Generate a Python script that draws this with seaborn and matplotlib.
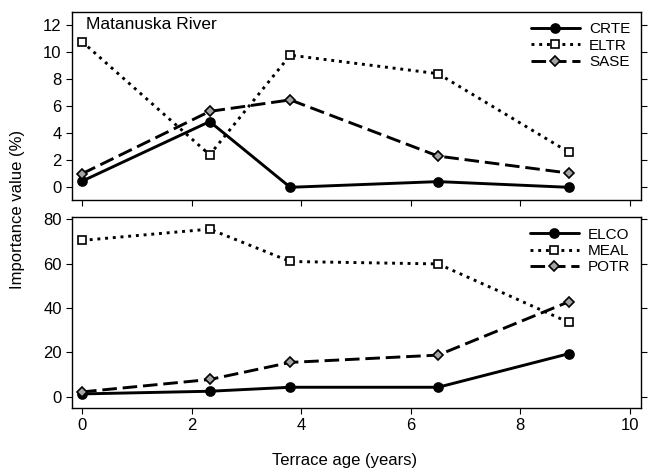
import matplotlib
matplotlib.use('Agg')
import matplotlib.pyplot as plt
import seaborn as sns
import pandas as pd

# Terrace ages (years) and importance values (%)
terrace_age = [0, 2.33, 3.8, 6.5, 8.88]

crte = [0.45, 4.85, 0.0, 0.42, 0.0]
eltr = [10.75, 2.4, 9.75, 8.38, 2.6]
sase = [1.0, 5.6, 6.45, 2.3, 1.05]

elco = [1.3, 2.5, 4.3, 4.3, 19.4]
meal = [70.5, 75.6, 61.0, 59.9, 33.6]
potr = [2.2, 7.8, 15.5, 18.8, 42.8]

top_series = {'CRTE': crte, 'ELTR': eltr, 'SASE': sase}
bottom_series = {'ELCO': elco, 'MEAL': meal, 'POTR': potr}

styles = [
    dict(linestyle='-', marker='o', markerfacecolor='black', markersize=6.5),
    dict(linestyle=':', marker='s', markerfacecolor='white', markersize=5.5),
    dict(linestyle=(0, (5, 2)), marker='D', markerfacecolor='#a4a4a4', markersize=5.5),
]

sns.set_style('ticks', {'axes.edgecolor': 'black', 'text.color': 'black',
                        'xtick.color': 'black', 'ytick.color': 'black',
                        'axes.labelcolor': 'black'})
plt.rcParams['font.family'] = ['Liberation Sans', 'DejaVu Sans']

fig = plt.figure(figsize=(6.5, 4.71), dpi=100)
ax_top = fig.add_axes([0.111, 0.575, 0.875, 0.40])
ax_bot = fig.add_axes([0.111, 0.134, 0.875, 0.405])


def draw_panel(ax, series):
    for (name, vals), st in zip(series.items(), styles):
        df = pd.DataFrame({'age': terrace_age, 'value': vals})
        sns.lineplot(data=df, x='age', y='value', ax=ax, color='black',
                     linewidth=2.1, markeredgecolor='black', markeredgewidth=1.2,
                     label=name, **st)
    ax.set_xlim(-0.18, 10.2)
    ax.set_xticks([0, 2, 4, 6, 8, 10])
    ax.set_xlabel('')
    ax.set_ylabel('')
    ax.tick_params(direction='out', right=True, labelsize=12, length=4,
                   color='black', labelcolor='black')
    for s in ax.spines.values():
        s.set_visible(True)
        s.set_linewidth(1)
        s.set_color('black')
    ax.legend(loc='upper right', frameon=False, fontsize=11,
              handlelength=3.2, labelspacing=0.15, borderaxespad=0.3,
              handletextpad=0.6)


draw_panel(ax_top, top_series)
ax_top.set_ylim(-0.95, 12.95)
ax_top.set_yticks([0, 2, 4, 6, 8, 10, 12])
ax_top.tick_params(labelbottom=False)
ax_top.text(0.025, 0.97, 'Matanuska River', transform=ax_top.transAxes,
            fontsize=12.5, va='top', ha='left')

draw_panel(ax_bot, bottom_series)
ax_bot.set_ylim(-5, 81)
ax_bot.set_yticks([0, 20, 40, 60, 80])

fig.text(0.53, 0.022, 'Terrace age (years)', ha='center', va='center', fontsize=12)
fig.text(0.027, 0.555, 'Importance value (%)', ha='center', va='center',
         rotation=90, fontsize=12)

fig.savefig('out.png', dpi=100)
